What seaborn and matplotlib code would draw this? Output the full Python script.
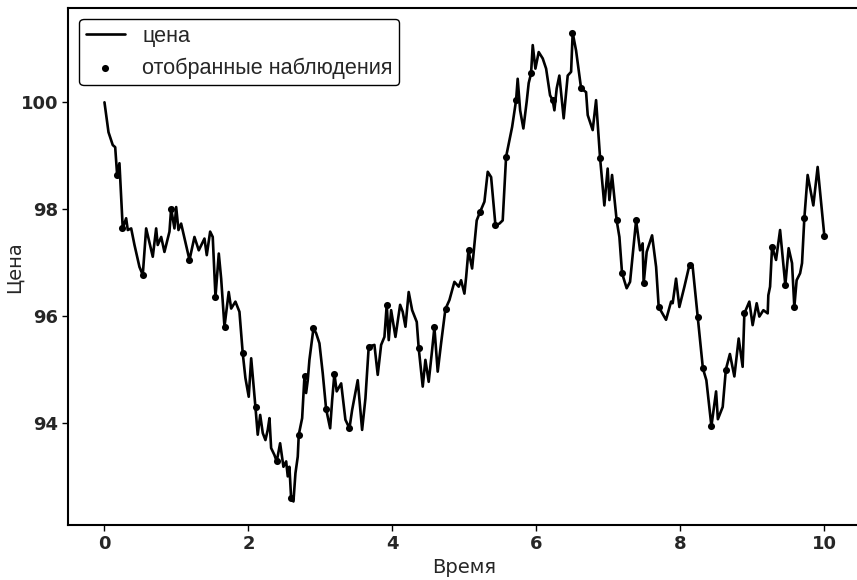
import numpy as np
import pandas as pd
import matplotlib
matplotlib.use("Agg")
import matplotlib.pyplot as plt
import seaborn as sns

# Траектория цены
time = [0.0, 0.056, 0.115, 0.149, 0.176, 0.208, 0.254, 0.301, 0.324, 0.371,
        0.417, 0.486, 0.532, 0.579, 0.671, 0.718, 0.740, 0.788, 0.833, 0.903,
        0.926, 0.972, 0.996, 1.028, 1.065, 1.181, 1.25, 1.310, 1.389, 1.421,
        1.468, 1.504, 1.542, 1.588, 1.621, 1.667, 1.726, 1.760, 1.819, 1.875,
        1.921, 1.958, 2.004, 2.038, 2.097, 2.129, 2.163, 2.199, 2.236, 2.268,
        2.292, 2.315, 2.361, 2.393, 2.440, 2.486, 2.524, 2.546, 2.569, 2.593,
        2.625, 2.653, 2.685, 2.699, 2.746, 2.778, 2.801, 2.824, 2.847, 2.903,
        2.940, 2.986, 3.032, 3.079, 3.135, 3.163, 3.194, 3.226, 3.288, 3.347,
        3.403, 3.440, 3.518, 3.579, 3.625, 3.671, 3.75, 3.796, 3.843, 3.889,
        3.921, 3.949, 3.982, 4.042, 4.107, 4.143, 4.181, 4.226, 4.274, 4.338,
        4.365, 4.421, 4.458, 4.504, 4.551, 4.583, 4.629, 4.676, 4.736, 4.792,
        4.861, 4.921, 4.954, 5.0, 5.024, 5.056, 5.107, 5.171, 5.218, 5.278,
        5.324, 5.371, 5.431, 5.486, 5.532, 5.579, 5.625, 5.663, 5.718, 5.740,
        5.774, 5.819, 5.865, 5.893, 5.926, 5.949, 5.986, 6.032, 6.088, 6.135,
        6.19, 6.226, 6.25, 6.282, 6.319, 6.379, 6.435, 6.482, 6.504, 6.551,
        6.621, 6.69, 6.713, 6.782, 6.829, 6.885, 6.944, 6.99, 7.014, 7.051,
        7.115, 7.153, 7.19, 7.254, 7.301, 7.385, 7.44, 7.476, 7.49, 7.532,
        7.607, 7.663, 7.699, 7.801, 7.871, 7.893, 7.94, 7.986, 8.056, 8.125,
        8.171, 8.24, 8.274, 8.313, 8.361, 8.431, 8.496, 8.521, 8.588, 8.632,
        8.688, 8.75, 8.81, 8.865, 8.889, 8.958, 9.004, 9.06, 9.097, 9.153,
        9.213, 9.222, 9.246, 9.274, 9.329, 9.385, 9.421, 9.458, 9.504, 9.551,
        9.583, 9.615, 9.663, 9.69, 9.722, 9.768, 9.847, 9.907, 9.968, 10.0]
price = [100.0, 99.44, 99.20, 99.16, 98.64, 98.86, 97.64, 97.83, 97.61, 97.64,
         97.33, 96.92, 96.77, 97.64, 97.11, 97.64, 97.33, 97.48, 97.20, 97.58,
         98.01, 97.64, 98.04, 97.61, 97.73, 97.05, 97.48, 97.23, 97.45, 97.14,
         97.58, 97.48, 96.36, 97.17, 96.70, 95.80, 96.45, 96.14, 96.27, 96.08,
         95.30, 94.84, 94.49, 95.21, 94.30, 93.78, 94.15, 93.81, 93.68, 93.87,
         94.09, 93.53, 93.40, 93.28, 93.62, 93.18, 93.28, 93.00, 93.18, 92.59,
         92.53, 93.06, 93.37, 93.78, 94.09, 94.87, 94.56, 94.80, 95.18, 95.77,
         95.68, 95.49, 94.93, 94.26, 93.90, 94.43, 94.92, 94.59, 94.74, 94.06,
         93.90, 94.24, 94.80, 93.87, 94.46, 95.43, 95.46, 94.90, 95.46, 95.61,
         96.21, 95.55, 96.11, 95.61, 96.21, 96.08, 95.80, 96.45, 96.11, 95.89,
         95.40, 94.68, 95.18, 94.77, 95.36, 95.79, 94.96, 95.49, 96.13, 96.30,
         96.64, 96.55, 96.67, 96.42, 96.73, 97.23, 96.89, 97.79, 97.95, 98.14,
         98.70, 98.60, 97.70, 97.73, 97.79, 98.98, 99.29, 99.54, 100.04, 100.44,
         99.85, 99.51, 100.01, 100.36, 100.54, 101.07, 100.63, 100.94, 100.82, 100.63,
         100.13, 100.04, 99.85, 100.26, 100.50, 99.70, 100.50, 100.57, 101.30, 100.97,
         100.26, 100.19, 99.76, 99.48, 100.04, 98.95, 98.07, 98.76, 98.17, 98.64,
         97.79, 97.48, 96.80, 96.52, 96.64, 97.79, 97.23, 97.36, 96.61, 97.20,
         97.51, 96.92, 96.17, 95.93, 96.27, 96.24, 96.70, 96.17, 96.55, 96.95,
         96.92, 95.99, 95.55, 95.02, 94.80, 93.94, 94.59, 94.07, 94.30, 95.00,
         95.29, 94.87, 95.58, 95.05, 96.05, 96.27, 95.83, 96.24, 95.99, 96.11,
         96.05, 96.39, 96.55, 97.30, 97.05, 97.61, 97.11, 96.58, 97.27, 96.99,
         96.17, 96.67, 96.80, 96.99, 97.83, 98.64, 98.07, 98.79, 97.95, 97.50]

# Отобранные наблюдения
sample_time = [0.18, 0.25, 0.53, 0.93, 1.18, 1.54, 1.67, 1.92, 2.10, 2.39,
               2.59, 2.70, 2.78, 2.90, 3.08, 3.19, 3.40, 3.67, 3.92, 4.37,
               4.58, 4.74, 5.06, 5.22, 5.43, 5.58, 5.72, 5.93, 6.23, 6.50,
               6.62, 6.89, 7.12, 7.19, 7.39, 7.49, 7.70, 8.13, 8.24, 8.31,
               8.43, 8.63, 8.89, 9.27, 9.46, 9.58, 9.72, 10.0]
sample_price = [98.64, 97.64, 96.77, 98.01, 97.05, 96.36, 95.80, 95.30, 94.30, 93.28,
                92.59, 93.78, 94.87, 95.77, 94.26, 94.92, 93.90, 95.43, 96.21, 95.40,
                95.79, 96.13, 97.23, 97.95, 97.70, 98.98, 100.04, 100.54, 100.04, 101.30,
                100.26, 98.95, 97.79, 96.80, 97.79, 96.61, 96.17, 96.95, 95.99, 95.02,
                93.94, 95.00, 96.05, 97.30, 96.58, 96.17, 97.83, 97.50]

sns.set_style("ticks")
plt.rcParams['font.family'] = ['DejaVu Sans']

fig = plt.figure(figsize=(8.57, 5.8), dpi=100)
ax = fig.add_axes([0.0799, 0.0948, 0.924, 0.891])

sns.lineplot(x=time, y=price, sort=False, estimator=None, color='black',
             linewidth=1.9, label='цена', ax=ax)
sns.scatterplot(x=sample_time, y=sample_price, color='black', s=26,
                edgecolor='black', linewidth=0, label='отобранные наблюдения',
                ax=ax, zorder=3)

ax.set_xlim(-0.5, 10.5)
ax.set_ylim(92.09, 101.76)
ax.set_xticks([0, 2, 4, 6, 8, 10])
ax.set_yticks([94, 96, 98, 100])
for lab in ax.get_xticklabels() + ax.get_yticklabels():
    lab.set_fontweight('bold')
    lab.set_fontsize(13)
ax.tick_params(length=4, width=1, color='black')
for sp in ax.spines.values():
    sp.set_color('black')
    sp.set_linewidth(1.5)

ax.set_xlabel('Время', fontsize=14, labelpad=3)
ax.set_ylabel('Цена', fontsize=14, labelpad=-2)

leg = ax.legend(loc='upper left', prop={'family': 'Liberation Sans', 'size': 15.6},
                frameon=True, fancybox=True, edgecolor='black', framealpha=1,
                handlelength=1.8, borderpad=0.3, labelspacing=0.5,
                borderaxespad=0.5)
leg.get_frame().set_linewidth(1.0)

fig.savefig('out.png', dpi=100)
